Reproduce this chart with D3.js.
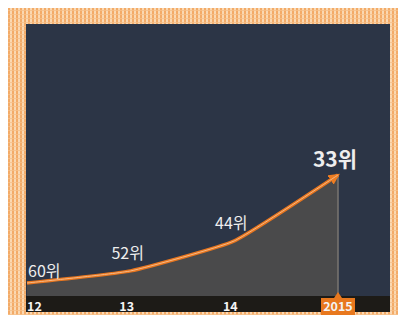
<!DOCTYPE html>
<html>
<head>
<meta charset="utf-8">
<script src="https://cdn.jsdelivr.net/npm/d3@7"></script>
<style>
  body { margin: 0; background: #fff; }
  svg { display: block; font-family: "Noto Sans CJK KR", "Noto Sans", sans-serif; }
</style>
</head>
<body>
<svg class="chart"></svg>
<script>
let width = 398,
  height = 315;

// data
let years = ["2012", "2013", "2014", "2015"];
let tickLabels = ["12", "13", "14", "2015"];
let ranks = [60, 52, 44, 33];
let rankLabels = ["60위", "52위", "44위", "33위"];

let svg = d3.select(".chart").attr("width", width).attr("height", height);

// plaid border pattern
let defs = svg.append("defs");
let pat = defs.append("pattern")
  .attr("id", "plaid")
  .attr("width", 4).attr("height", 4)
  .attr("patternUnits", "userSpaceOnUse");
pat.append("rect").attr("width", 4).attr("height", 4).attr("fill", "#fad8b2");
pat.append("rect").attr("width", 2).attr("height", 4).attr("fill", "#f3ab68");
pat.append("rect").attr("y", 2).attr("width", 4).attr("height", 1).attr("fill", "#f6c08a").attr("opacity", 0.8);

defs.append("marker")
  .attr("id", "arrow")
  .attr("viewBox", "0 0 10 10")
  .attr("refX", 8).attr("refY", 5)
  .attr("markerWidth", 3.2).attr("markerHeight", 3.2)
  .attr("orient", "auto")
  .append("path")
  .attr("d", "M0,0L10,5L0,10z")
  .attr("fill", "#ee7d22");

svg.append("rect")
  .attr("x", 8).attr("y", 8)
  .attr("width", width - 8).attr("height", height - 8)
  .attr("fill", "url(#plaid)");

let panel = { left: 26, top: 24, right: 390, bottom: 296 };

svg.append("rect")
  .attr("x", panel.left).attr("y", panel.top)
  .attr("width", panel.right - panel.left)
  .attr("height", panel.bottom - panel.top)
  .attr("fill", "#2c3546");

// axis bar
svg.append("rect")
  .attr("x", panel.left).attr("y", panel.bottom)
  .attr("width", panel.right - panel.left)
  .attr("height", 16)
  .attr("fill", "#1d1b17");

// scales
let x = d3.scalePoint().domain(years).range([27, 338]);
// rank improvement shown on a stretched (power) scale
let y = d3.scalePow().exponent(1.8)
  .domain([0, ranks[0] - ranks[ranks.length - 1]])
  .range([283, 175]);
let py = (r) => y(ranks[0] - r);

let pts = years.map((yr, i) => [x(yr), py(ranks[i])]);

let clip = defs.append("clipPath").attr("id", "pclip");
clip.append("rect")
  .attr("x", panel.left).attr("y", panel.top)
  .attr("width", panel.right - panel.left)
  .attr("height", panel.bottom - panel.top + 16);

let g = svg.append("g").attr("clip-path", "url(#pclip)");

let curve = d3.curveCardinal.tension(0.6);

let area = d3.area()
  .x((d) => d[0])
  .y0(panel.bottom)
  .y1((d) => d[1])
  .curve(curve);

g.append("path")
  .attr("d", area(pts))
  .attr("fill", "#4a4a4b");

// vertical guide at last year
let last = pts[pts.length - 1];
g.append("line")
  .attr("x1", last[0]).attr("x2", last[0])
  .attr("y1", last[1]).attr("y2", panel.bottom)
  .attr("stroke", "#7a7670")
  .attr("stroke-width", 1.5);

let line = d3.line()
  .x((d) => d[0])
  .y((d) => d[1])
  .curve(curve);

g.append("path")
  .attr("d", line(pts))
  .attr("fill", "none")
  .attr("stroke", "#e8761f")
  .attr("stroke-width", 3.5)
  .attr("marker-end", "url(#arrow)");

g.append("path")
  .attr("d", line(pts))
  .attr("fill", "none")
  .attr("stroke", "#f6b985")
  .attr("stroke-width", 1);

// rank labels
g.selectAll(".rank")
  .data(rankLabels)
  .enter()
  .append("text")
  .attr("class", "rank")
  .attr("x", (d, i) => (i == 0 ? pts[i][0] + 1 : pts[i][0] - 3))
  .attr("y", (d, i) => {
    if (i == 0) return pts[i][1] - 6;
    if (i == rankLabels.length - 1) return pts[i][1] - 8;
    return pts[i][1] - 12;
  })
  .attr("text-anchor", (d, i) => (i == 0 ? "start" : "middle"))
  .attr("fill", "#eeeeee")
  .attr("font-size", (d, i) => (i == rankLabels.length - 1 ? 21 : 16))
  .attr("font-weight", (d, i) => (i == rankLabels.length - 1 ? "bold" : "normal"))
  .text((d) => d);

// highlighted last year tick
svg.append("rect")
  .attr("x", last[0] - 17).attr("y", 298)
  .attr("width", 34).attr("height", 17)
  .attr("fill", "#e8781e");
svg.append("path")
  .attr("d", `M${last[0] - 4},298L${last[0]},292L${last[0] + 4},298z`)
  .attr("fill", "#e8781e");

// tick labels
svg.selectAll(".tick")
  .data(tickLabels)
  .enter()
  .append("text")
  .attr("class", "tick")
  .attr("x", (d, i) => (i == 0 ? panel.left + 1 : x(years[i]) - (i == 3 ? 0 : 4)))
  .attr("y", 311)
  .attr("text-anchor", (d, i) => (i == 0 ? "start" : "middle"))
  .attr("fill", "#f4f4f4")
  .attr("font-size", 12.5)
  .attr("font-weight", "bold")
  .text((d) => d);
</script>
</body>
</html>
